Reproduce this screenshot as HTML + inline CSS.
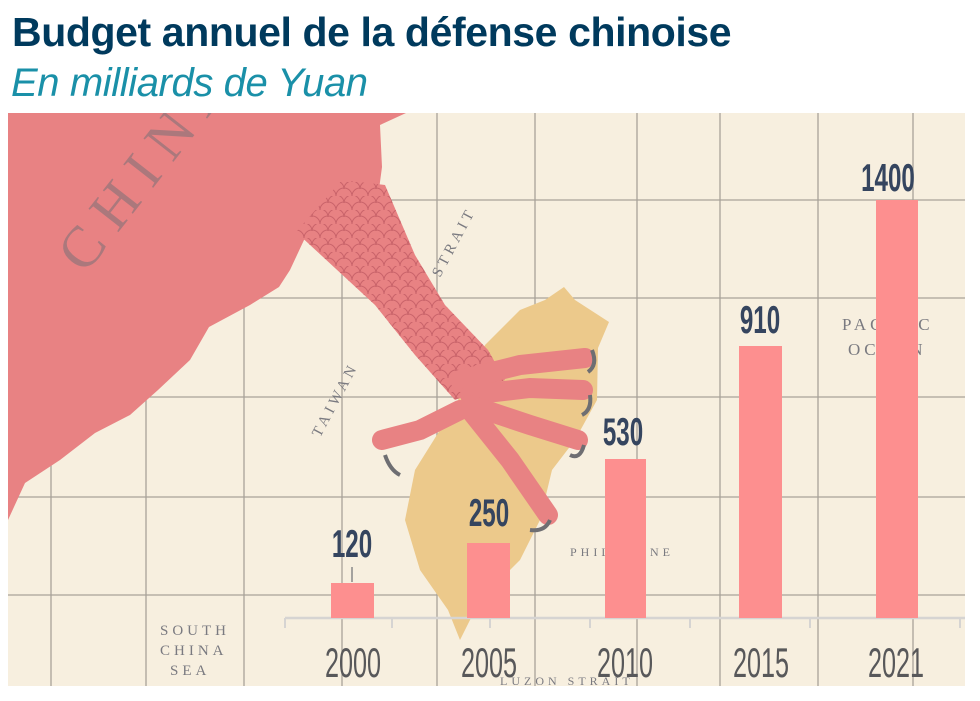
<!DOCTYPE html>
<html><head><meta charset="utf-8">
<style>
body{margin:0;background:#fff;width:980px;height:701px;overflow:hidden;font-family:"Liberation Sans",sans-serif}
.t{position:absolute;left:12px;top:9px;font-size:41px;font-weight:bold;color:#003a5d;letter-spacing:-0.4px;line-height:46px}
.s{position:absolute;left:11px;top:60px;font-size:40px;font-style:italic;color:#1a90a8;letter-spacing:-0.4px;line-height:46px}
svg{position:absolute;left:0;top:0}
</style></head><body>
<div class="t">Budget annuel de la défense chinoise</div>
<div class="s">En milliards de Yuan</div>
<svg width="980" height="701" viewBox="0 0 980 701">
<defs><clipPath id="c"><rect x="8" y="113" width="957" height="573"/></clipPath>
<pattern id="sc" width="16" height="14" patternUnits="userSpaceOnUse"><path d="M0 14 A8 8 0 0 1 16 14 M-8 7 A8 8 0 0 1 8 7 M8 7 A8 8 0 0 1 24 7" fill="none" stroke="#c9636a" stroke-width="1"/></pattern></defs>
<g clip-path="url(#c)">
<rect x="8" y="113" width="957" height="573" fill="#f7efdf"/>
<g stroke="#a8a299" stroke-width="1.3">
<line x1="51" y1="113" x2="51" y2="686"/><line x1="146" y1="113" x2="146" y2="686"/><line x1="244" y1="113" x2="244" y2="686"/><line x1="342" y1="113" x2="342" y2="686"/><line x1="437" y1="113" x2="437" y2="686"/><line x1="535" y1="113" x2="535" y2="686"/><line x1="637" y1="113" x2="637" y2="686"/><line x1="720" y1="113" x2="720" y2="686"/><line x1="818" y1="113" x2="818" y2="686"/><line x1="913" y1="113" x2="913" y2="686"/>
<line x1="8" y1="200" x2="965" y2="200"/><line x1="8" y1="298" x2="965" y2="298"/><line x1="8" y1="397" x2="965" y2="397"/><line x1="8" y1="497" x2="965" y2="497"/><line x1="8" y1="595" x2="965" y2="595"/>
</g>
<path d="M564 287 L575 300 L609 322 L598 348 L597 400 L575 440 L552 470 L540 520 L520 560 L480 600 L460 640 L448 610 L420 570 L405 520 L415 470 L440 430 L470 380 L485 345 L520 310 L545 300 Z" fill="#ecc98b"/>
<path d="M8 113 L406 113 L380 125 L382 167 L378 197 L330 215 L304 240 L290 270 L279 287 L250 305 L209 327 L190 360 L158 390 L130 415 L95 433 L60 460 L25 483 L8 520 Z" fill="#e88283"/>
<path d="M296 232 L342 180 L385 185 L415 255 L445 305 L488 350 L505 380 L455 400 L415 355 L375 305 Z" fill="#e88283"/>
<path d="M296 232 L342 180 L385 185 L415 255 L445 305 L488 350 L505 380 L455 400 L415 355 L375 305 Z" fill="url(#sc)"/>
<g stroke="#e88283" stroke-width="20" stroke-linecap="round" fill="none">
<path d="M460 380 L520 365 L585 358"/><path d="M470 395 L530 388 L583 390"/><path d="M470 405 L530 425 L578 440"/><path d="M460 410 L420 430 L382 440"/><path d="M470 410 L510 460 L548 515"/>
</g>
<g fill="none" stroke="#6e6e72" stroke-width="4"><path d="M592 350 Q598 365 588 372"/><path d="M590 395 Q592 410 582 415"/><path d="M584 445 Q580 460 570 455"/><path d="M550 520 Q545 532 530 530"/><path d="M385 455 Q390 470 400 475"/></g>
<g font-family="Liberation Serif,serif" fill="#7a7a80" font-size="15" letter-spacing="4">
<text x="160" y="635">SOUTH</text><text x="160" y="655">CHINA</text><text x="170" y="675">SEA</text>
<text x="842" y="330" font-size="17">PACIFIC</text><text x="848" y="355" font-size="17">OCEAN</text>
<text x="500" y="685" font-size="12">LUZON STRAIT</text>
<text x="570" y="556" font-size="12">PHILIPPINE</text>
<text transform="translate(440,278) rotate(-62)" font-size="15">STRAIT</text>
<text transform="translate(320,438) rotate(-62)" font-size="15">TAIWAN</text>
<text transform="translate(85,275) rotate(-52)" font-size="58" letter-spacing="14" fill="#7a7078" opacity="0.55">CHINA</text>
</g>
<line x1="285" y1="618" x2="965" y2="618" stroke="#d6d4d2" stroke-width="2.5"/>
<g stroke="#d6d4d2" stroke-width="2"><line x1="285" y1="618" x2="285" y2="628"/><line x1="392" y1="618" x2="392" y2="628"/><line x1="490" y1="618" x2="490" y2="628"/><line x1="590" y1="618" x2="590" y2="628"/><line x1="690" y1="618" x2="690" y2="628"/><line x1="810" y1="618" x2="810" y2="628"/><line x1="960" y1="618" x2="960" y2="628"/></g>
<g fill="#fd8f8f">
<rect x="331" y="583" width="43" height="35"/><rect x="467" y="543" width="43" height="75"/><rect x="605" y="459" width="41" height="159"/><rect x="739" y="346" width="43" height="272"/><rect x="876" y="200" width="42" height="418"/>
</g>
<line x1="352" y1="567" x2="352" y2="582" stroke="#888" stroke-width="1.5"/>
<g font-family="Liberation Sans Narrow,Liberation Sans,sans-serif" font-weight="bold" fill="#35455f" font-size="39" text-anchor="middle">
<text x="352" y="557" transform="translate(352 0) scale(0.62 1) translate(-352 0)">120</text>
<text x="489" y="526" transform="translate(489 0) scale(0.62 1) translate(-489 0)">250</text>
<text x="623" y="445" transform="translate(623 0) scale(0.62 1) translate(-623 0)">530</text>
<text x="760" y="333" transform="translate(760 0) scale(0.62 1) translate(-760 0)">910</text>
<text x="888" y="191" transform="translate(888 0) scale(0.62 1) translate(-888 0)">1400</text>
</g>
<g font-family="Liberation Sans Narrow,Liberation Sans,sans-serif" fill="#58585a" font-size="42" text-anchor="middle">
<text x="353" y="677" transform="translate(353 0) scale(0.6 1) translate(-353 0)">2000</text>
<text x="489" y="677" transform="translate(489 0) scale(0.6 1) translate(-489 0)">2005</text>
<text x="625" y="677" transform="translate(625 0) scale(0.6 1) translate(-625 0)">2010</text>
<text x="761" y="677" transform="translate(761 0) scale(0.6 1) translate(-761 0)">2015</text>
<text x="896" y="677" transform="translate(896 0) scale(0.6 1) translate(-896 0)">2021</text>
</g>
</g>
</svg>
</body></html>
